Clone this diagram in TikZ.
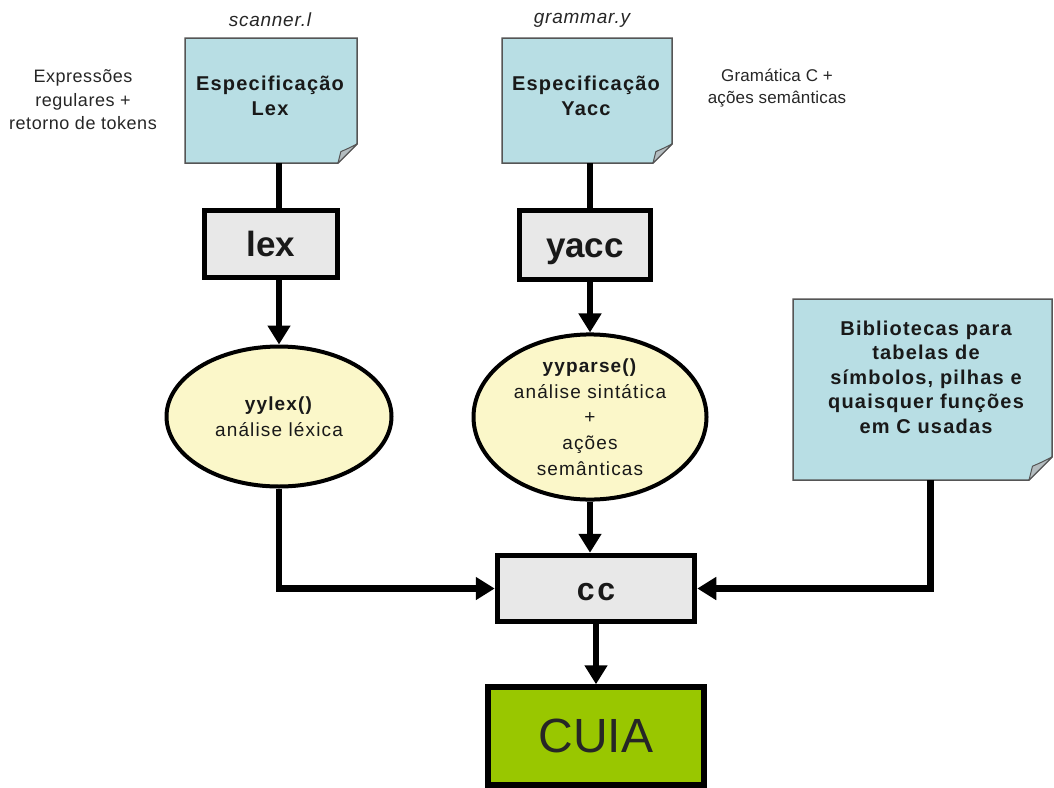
\documentclass[tikz,border=0pt]{standalone}
\usepackage{fontspec}
\setmainfont{Liberation Sans}
\usetikzlibrary{shapes.geometric,arrows.meta,backgrounds,calc}

\definecolor{docblue}{HTML}{B8DEE4}
\definecolor{docedge}{HTML}{555555}
\definecolor{foldgray}{HTML}{B4BDC0}
\definecolor{boxgray}{HTML}{E8E8E8}
\definecolor{ellyellow}{HTML}{FBF7C9}
\definecolor{cuiagreen}{HTML}{99C700}

% slightly spaced-out lettering
\newcommand\spaced[1]{\addfontfeatures{LetterSpace=#1}}

% sheet of paper with a curled bottom-right corner, drawn behind node #1
\newcommand\foldeddoc[2]{%
  \filldraw[fill=docblue,draw=docedge,line width=1.5pt]
    (#1.north west) -- (#1.north east) -- ([yshift=#2pt]#1.south east)
    -- ([xshift=-#2pt]#1.south east) -- (#1.south west) -- cycle;
  \filldraw[fill=foldgray,draw=docedge,line width=1pt,line join=round]
    ([yshift=#2pt]#1.south east)
    .. controls ([xshift=-0.5*#2pt,yshift=0.75*#2pt]#1.south east) .. ([xshift=-0.85*#2pt,yshift=0.6*#2pt]#1.south east)
    -- ([xshift=-#2pt]#1.south east) -- cycle;
}

\begin{document}
\begin{tikzpicture}[x=1pt,y=-1pt,
  docshape/.style={rectangle,inner sep=0pt,outer sep=0pt},
  doctext/.style={align=center,font=\bfseries\fontsize{20}{24.5}\selectfont\spaced{6},text=black!90},
  toolbox/.style={rectangle,draw=black,line width=5.5pt,fill=boxgray,inner sep=0pt,
    text height=25pt,text depth=0pt,
    font=\bfseries\fontsize{35}{40}\selectfont,text=black!90},
  stage/.style={ellipse,draw=black,line width=4pt,fill=ellyellow,inner sep=0pt,
    align=center,font=\fontsize{19}{25.7}\selectfont\spaced{6},text=black!90},
  note/.style={align=center,font=\fontsize{18}{23.5}\selectfont\spaced{3},text=black!85},
  filename/.style={font=\itshape\fontsize{19}{22}\selectfont\spaced{4},text=black!85},
  plain/.style={line width=6.5pt},
  flow/.style={line width=6.5pt,-{Triangle[width=22pt,length=19pt]}}
]
\useasboundingbox (0,0) rectangle (1054,787);

% source specifications
\node[docshape,minimum width=172pt,minimum height=125pt] (speclex) at (271,100.5) {};
\node[doctext] (speclextxt) at (270,96) {Especificação\\Lex};
\node[docshape,minimum width=170pt,minimum height=125pt] (specyacc) at (587,100.5) {};
\node[doctext] (specyacctxt) at (586,96) {Especificação\\Yacc};
\node[docshape,minimum width=259pt,minimum height=181pt] (speclib) at (922.5,389.5) {};
\node[doctext] (speclibtxt) at (926,377) {Bibliotecas para\\tabelas de\\símbolos, pilhas e\\quaisquer funções\\em C usadas};

\begin{scope}[on background layer]
  \foldeddoc{speclex}{19}
  \foldeddoc{specyacc}{19}
  \foldeddoc{speclib}{23}
\end{scope}

% file names and remarks
\node[filename] (lexfile) at (270,20) {scanner.l};
\node[filename] (yaccfile) at (582,20) {grammar.y};
\node[note] (lexnote) at (83,100) {Expressões\\regulares +\\retorno de tokens};
\node[note,font=\fontsize{17}{21.5}\selectfont\spaced{1}] (yaccnote) at (777,88) {Gramática C +\\ações semânticas};

% generators
\node[toolbox,minimum width=133pt,minimum height=67pt] (lex) at (271,244) {lex};
\node[toolbox,minimum width=131pt,minimum height=69pt] (yacc) at (585,245) {yacc};

% generated routines
\node[stage,minimum width=225pt,minimum height=140pt] (yylex) at (279,416.5)
  {\textbf{yylex()}\\análise léxica};
\node[stage,minimum width=233pt,minimum height=141pt] (yyparse) at (590,417)
  {\textbf{yyparse()}\\análise sintática\\+\\ações\\semânticas};

% compiler and result
\node[toolbox,minimum width=197pt,minimum height=66pt,text height=23pt,
      font=\bfseries\fontsize{32}{36}\selectfont\spaced{8}] (cc) at (596,588.5) {cc};
\node[rectangle,draw=black,line width=5.5pt,fill=cuiagreen,inner sep=0pt,
      minimum width=216pt,minimum height=98pt,font=\fontsize{48}{52}\selectfont,text=black!85]
      (cuia) at (596,736) {CUIA};

% connections
\draw[plain] (yylex.north |- speclex.south) -- (yylex.north |- lex.north);
\draw[flow]  (yylex.north |- lex.south) -- (yylex.north);
\draw[plain] (yyparse.north |- specyacc.south) -- (yyparse.north |- yacc.north);
\draw[flow]  (yyparse.north |- yacc.south) -- (yyparse.north);
\draw[flow]  (yylex.south) |- (cc.west);
\draw[flow]  (yyparse.south) -- (yyparse.south |- cc.north);
\draw[flow]  ([xshift=8pt]speclib.south) |- (cc.east);
\draw[flow]  (cc) -- (cuia);
\end{tikzpicture}
\end{document}
